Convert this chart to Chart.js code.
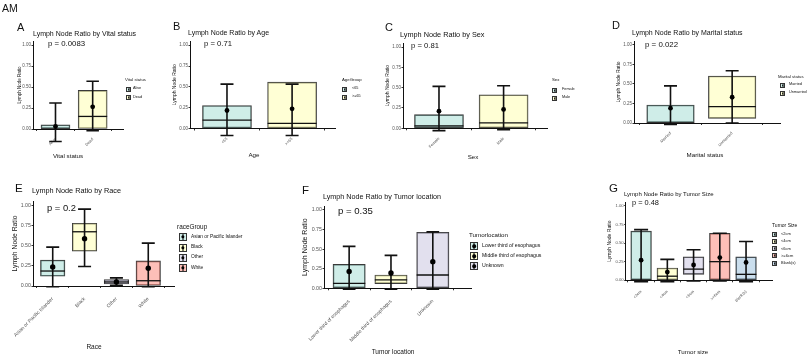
<!DOCTYPE html>
<html><head><meta charset="utf-8">
<script src="https://cdn.jsdelivr.net/npm/chart.js@4.4.1/dist/chart.umd.min.js"></script>
<style>
html,body{margin:0;padding:0;background:#fff;width:811px;height:360px;overflow:hidden;font-family:'Liberation Sans',Arial,sans-serif;-webkit-font-smoothing:antialiased;}
.cv{position:absolute;}
.t{position:absolute;white-space:nowrap;line-height:1;color:#111;will-change:transform;}
.xt{position:absolute;white-space:nowrap;transform:translateX(-50%);line-height:1;color:#111;will-change:transform;}
.sym{position:absolute;box-sizing:border-box;border:0.8px solid #333;}
.sym::before{content:'';position:absolute;left:50%;top:0;bottom:0;width:1px;background:#000;transform:translateX(-50%);}
.sym::after{content:'';position:absolute;left:50%;top:50%;width:60%;height:60%;border-radius:50%;background:#000;transform:translate(-50%,-50%);}
</style></head><body>
<script>
// ---------- DATA ----------
const yTicks = [0, 0.25, 0.5, 0.75, 1.0];

const vitalCats = ['Alive', 'Dead'];
const vitalQ1   = [0, 0];
const vitalMed  = [0, 0.15];
const vitalQ3   = [0.05, 0.46];
const vitalMean = [0.03, 0.265];
const vitalLo   = [-0.15, -0.02];
const vitalHi   = [0.31, 0.57];

const ageCats = ['<65', '>=65'];
const ageQ1   = [0, 0];
const ageMed  = [0.10, 0.062];
const ageQ3   = [0.275, 0.556];
const ageMean = [0.216, 0.236];
const ageLo   = [-0.084, -0.084];
const ageHi   = [0.532, 0.532];

const sexCats = ['Female', 'Male'];
const sexQ1   = [0, 0];
const sexMed  = [0.031, 0.067];
const sexQ3   = [0.168, 0.412];
const sexMean = [0.211, 0.232];
const sexLo   = [-0.029, -0.017];
const sexHi   = [0.516, 0.523];

const maritalCats = ['Married', 'Unmarried'];
const maritalQ1   = [0, 0.06];
const maritalMed  = [0, 0.21];
const maritalQ3   = [0.23, 0.60];
const maritalMean = [0.19, 0.33];
const maritalLo   = [-0.02, 0];
const maritalHi   = [0.475, 0.67];

const raceCats = ['Asian or Pacific Islander', 'Black', 'Other', 'White'];
const raceQ1   = [0.12, 0.43, 0.025, 0];
const raceMed  = [0.185, 0.67, 0.05, 0.065];
const raceQ3   = [0.32, 0.775, 0.08, 0.31];
const raceMean = [0.235, 0.585, 0.05, 0.22];
const raceLo   = [-0.01, 0.24, 0.01, -0.01];
const raceHi   = [0.48, 0.95, 0.10, 0.53];

const locCats = ['Lower third of esophagus', 'Middle third of esophagus', 'Unknown'];
const locQ1   = [0, 0.06, 0];
const locMed  = [0.062, 0.107, 0.17];
const locQ3   = [0.305, 0.17, 0.715];
const locMean = [0.215, 0.195, 0.34];
const locLo   = [-0.01, -0.01, -0.01];
const locHi   = [0.535, 0.42, 0.72];

const sizeCats = ['<2cm', '<4cm', '<6cm', '>=6cm', 'Blank(s)'];
const sizeQ1   = [0, 0, 0.08, 0, 0];
const sizeMed  = [0, 0.055, 0.15, 0.25, 0.08];
const sizeQ3   = [0.66, 0.165, 0.315, 0.63, 0.315];
const sizeMean = [0.27, 0.11, 0.205, 0.305, 0.24];
const sizeLo   = [-0.02, -0.02, -0.01, -0.01, -0.02];
const sizeHi   = [0.68, 0.28, 0.41, 0.63, 0.52];

// ---------- STYLE ----------
const TEAL = 'rgba(141,211,199,0.42)';
const YEL  = 'rgba(255,255,179,0.55)';
const LAV  = 'rgba(190,186,218,0.45)';
const SAL  = 'rgba(251,128,114,0.5)';
const BLU  = 'rgba(128,177,211,0.42)';
const FONT = "'Liberation Sans', Arial, sans-serif";

const panels = [
  {cats: vitalCats, q1: vitalQ1, med: vitalMed, q3: vitalQ3, mean: vitalMean, lo: vitalLo, hi: vitalHi,
   colors: [TEAL, YEL], L: 33, R: 125, Y0: 129, k: 85.7, yw: 15.7, xh: 30, padTop: 2, xmin: 0.395, xmax: 2.816,
   bar: 29, cap: 12.5, tickF: 4.5, yTitleF: 4.5, xLabF: 4, ptR: 2.4, xPad: 6},
  {cats: ageCats, q1: ageQ1, med: ageMed, q3: ageQ3, mean: ageMean, lo: ageLo, hi: ageHi,
   colors: [TEAL, YEL], L: 190, R: 337, Y0: 128.5, k: 85.5, yw: 18.5, xh: 30, padTop: 2, xmin: 0.432, xmax: 2.659,
   bar: 49, cap: 13, tickF: 4.5, yTitleF: 5, xLabF: 4, ptR: 2.4, xPad: 6},
  {cats: sexCats, q1: sexQ1, med: sexMed, q3: sexQ3, mean: sexMean, lo: sexLo, hi: sexHi,
   colors: [TEAL, YEL], L: 403, R: 549, Y0: 128.3, k: 83.3, yw: 18.5, xh: 30, padTop: 2, xmin: 0.443, xmax: 2.672,
   bar: 49, cap: 13, tickF: 4.5, yTitleF: 5, xLabF: 4, ptR: 2.4, xPad: 6},
  {cats: maritalCats, q1: maritalQ1, med: maritalMed, q3: maritalQ3, mean: maritalMean, lo: maritalLo, hi: maritalHi,
   colors: [TEAL, YEL], L: 634, R: 782, Y0: 123, k: 80, yw: 18.3, xh: 30, padTop: 2, xmin: 0.408, xmax: 2.776,
   bar: 47.5, cap: 13, tickF: 4.5, yTitleF: 5, xLabF: 4, ptR: 2.4, xPad: 6},
  {cats: raceCats, q1: raceQ1, med: raceMed, q3: raceQ3, mean: raceMean, lo: raceLo, hi: raceHi,
   colors: [TEAL, YEL, LAV, SAL], L: 33, R: 176, Y0: 286, k: 82.7, yw: 21.6, xh: 62, padTop: 2, xmin: 0.381, xmax: 4.808,
   bar: 24.5, cap: 13, tickF: 5.3, yTitleF: 6.8, xLabF: 5, ptR: 2.7, xPad: 8},
  {cats: locCats, q1: locQ1, med: locMed, q3: locQ3, mean: locMean, lo: locLo, hi: locHi,
   colors: [TEAL, YEL, LAV], L: 324, R: 473, Y0: 288.3, k: 80.7, yw: 22.7, xh: 62, padTop: 2, xmin: 0.399, xmax: 3.913,
   bar: 32.3, cap: 12.7, tickF: 5.3, yTitleF: 7, xLabF: 5, ptR: 2.7, xPad: 8},
  {cats: sizeCats, q1: sizeQ1, med: sizeMed, q3: sizeQ3, mean: sizeMean, lo: sizeLo, hi: sizeHi,
   colors: [TEAL, YEL, LAV, SAL, BLU], L: 625.7, R: 774, Y0: 280.3, k: 76.3, yw: 18.4, xh: 30, padTop: 2, xmin: 0.413, xmax: 5.989,
   bar: 20.7, cap: 14, tickF: 4.2, yTitleF: 5, xLabF: 4, ptR: 2.4, xPad: 7}
];

const YMAX = 1.05;

function extras(p) {
  return {
    id: 'boxExtras',
    beforeDatasetDraw(chart, args) {
      if (args.index !== 1) return;
      const x = chart.scales.x, y = chart.scales.y, ctx = chart.ctx;
      ctx.save();
      ctx.strokeStyle = '#111';
      p.cats.forEach((c, i) => {
        const cx = x.getPixelForValue(i + 1);
        const ym = y.getPixelForValue(p.med[i]);
        ctx.lineWidth = 1.3;
        ctx.beginPath(); ctx.moveTo(cx - p.bar / 2, ym); ctx.lineTo(cx + p.bar / 2, ym); ctx.stroke();
        const yl = y.getPixelForValue(p.lo[i]), yh = y.getPixelForValue(p.hi[i]);
        ctx.lineWidth = 1.6;
        ctx.beginPath();
        ctx.moveTo(cx, yl); ctx.lineTo(cx, yh);
        ctx.moveTo(cx - p.cap / 2, yl); ctx.lineTo(cx + p.cap / 2, yl);
        ctx.moveTo(cx - p.cap / 2, yh); ctx.lineTo(cx + p.cap / 2, yh);
        ctx.stroke();
      });
      ctx.restore();
    }
  };
}

panels.forEach(p => {
  const top = p.Y0 - YMAX * p.k;
  const cl = Math.round(p.L - p.yw);
  const ct = Math.round(top - p.padTop);
  const W = Math.round(p.R + 2 - cl);
  const H = Math.round(p.Y0 + p.xh - ct);
  const yw = p.L - cl, padTop = top - ct, padRight = cl + W - p.R, xh = ct + H - p.Y0;
  const div = document.createElement('div');
  div.className = 'cv';
  div.style.cssText = `left:${cl}px;top:${ct}px;width:${W}px;height:${H}px;`;
  const cv = document.createElement('canvas');
  div.appendChild(cv);
  document.body.appendChild(div);
  new Chart(cv, {
    type: 'bar',
    data: {
      datasets: [
        {type: 'bar', order: 2,
         data: p.cats.map((c, i) => ({x: i + 1, y: [p.q1[i], p.q3[i]]})),
         backgroundColor: p.colors, borderColor: '#3a3a3a', borderWidth: 0.9, borderSkipped: false,
         barThickness: p.bar},
        {type: 'line', order: 1, showLine: false, clip: false,
         data: p.cats.map((c, i) => ({x: i + 1, y: p.mean[i]})),
         pointRadius: p.ptR, pointBackgroundColor: '#000', pointBorderColor: '#000', pointBorderWidth: 0}
      ]
    },
    options: {
      responsive: true, maintainAspectRatio: false, animation: false, events: [],
      layout: {padding: {top: padTop, right: padRight, left: 0, bottom: 0}},
      plugins: {legend: {display: false}, tooltip: {enabled: false}, title: {display: false}},
      scales: {
        x: {type: 'linear', min: p.xmin, max: p.xmax, offset: false,
            afterBuildTicks: s => { s.ticks = p.cats.map((c, i) => ({value: i + 1})); },
            afterFit: s => { s.height = xh; s.paddingLeft = 0; s.paddingRight = 0; },
            border: {display: true, color: '#111', width: 1},
            grid: {display: true, drawOnChartArea: false, drawTicks: true, tickLength: 2, color: '#333'},
            ticks: {autoSkip: false, minRotation: 45, maxRotation: 45, padding: p.xPad, color: '#555',
                    font: {family: FONT, size: p.xLabF}, callback: v => p.cats[Math.round(v) - 1]},
            title: {display: false}},
        y: {type: 'linear', min: 0, max: YMAX,
            afterBuildTicks: s => { s.ticks = yTicks.map(v => ({value: v})); },
            afterFit: s => { s.width = yw; s.paddingTop = 0; s.paddingBottom = 0; },
            border: {display: true, color: '#111', width: 1},
            grid: {display: true, drawOnChartArea: false, drawTicks: true, tickLength: 1.5, color: '#333'},
            ticks: {padding: 0.5, color: '#555', font: {family: FONT, size: p.tickF}, callback: v => v.toFixed(2)},
            title: {display: true, text: 'Lymph Node Ratio', color: '#111', padding: 0,
                    font: {family: FONT, size: p.yTitleF}}}
      }
    },
    plugins: [extras(p)]
  });
});

// ---------- TEXT ----------
function txt(s, x, y, size, cls) {
  const d = document.createElement('div');
  d.className = cls || 't';
  d.style.left = Math.round(x) + 'px';
  d.style.top = Math.round(y - size / 2) + 'px';
  d.style.fontSize = size + 'px';
  d.textContent = s;
  document.body.appendChild(d);
}
// panel letters
txt('AM', 2, 8.7, 10.5);
txt('A', 16.7, 27.8, 11);
txt('B', 173.3, 26.3, 11);
txt('C', 385, 27.5, 11);
txt('D', 612.3, 25.8, 11);
txt('E', 15, 189.2, 11.5);
txt('F', 301.7, 190.5, 11.5);
txt('G', 609.3, 189, 11.5);
// titles
txt('Lymph Node Ratio by Vital status', 33, 33, 7);
txt('Lymph Node Ratio by Age', 188, 32.7, 7);
txt('Lymph Node Ratio by Sex', 400, 34.3, 7.3);
txt('Lymph Node Ratio by Marital status', 632, 32.3, 7);
txt('Lymph Node Ratio by Race', 32, 191, 7.3);
txt('Lymph Node Ratio by Tumor location', 323, 196.7, 7.2);
txt('Lymph Node Ratio by Tumor Size', 624, 194.3, 6);
// p values
txt('p = 0.0083', 48, 44.3, 7.8);
txt('p = 0.71', 204, 44.3, 7.7);
txt('p = 0.81', 411, 46.3, 7.7);
txt('p = 0.022', 645, 45, 7.9);
txt('p = 0.2', 47, 207.3, 9.4);
txt('p = 0.35', 338, 211, 9.6);
txt('p = 0.48', 632, 203, 7.4);
// x axis titles (centered)
txt('Vital status', 68, 156, 6.2, 'xt');
txt('Age', 254, 155, 6.2, 'xt');
txt('Sex', 473, 157, 6.2, 'xt');
txt('Marital status', 705, 155, 6.2, 'xt');
txt('Race', 94, 347, 6.5, 'xt');
txt('Tumor location', 393, 352, 6.5, 'xt');
txt('Tumor size', 693, 352, 6.2, 'xt');

// legends
function legend(title, items, colors, x, ty, ys, tSize, iSize, symX, symS, textX) {
  txt(title, x, ty, tSize);
  items.forEach((s, i) => {
    const d = document.createElement('div');
    d.className = 'sym';
    d.style.left = Math.round(symX) + 'px'; d.style.top = Math.round(ys[i] - symS / 2) + 'px';
    d.style.width = symS + 'px'; d.style.height = symS + 'px';
    d.style.background = colors[i];
    document.body.appendChild(d);
    txt(s, textX, ys[i], iSize);
  });
}
legend('Vital status', vitalCats, panels[0].colors, 124.5, 80.3, [89, 97.5], 4.3, 3.8, 126, 5, 133);
legend('AgeGroup', ageCats, panels[1].colors, 342, 80, [89, 97], 4.3, 3.8, 341.7, 5, 351.5);
legend('Sex', sexCats, panels[2].colors, 552, 80.3, [90, 98], 4.3, 3.8, 552, 5, 562.3);
legend('Marital status', maritalCats, panels[3].colors, 778.3, 76.7, [85.3, 93.3], 4.3, 3.8, 780, 5, 789);
legend('raceGroup', raceCats, panels[4].colors, 177.3, 226.7, [237, 247.3, 257.7, 268], 6.4, 4.8, 179, 7.5, 190.7);
legend('Tumorlocation', locCats, panels[5].colors, 469.3, 235, [245.7, 255.7, 265.7], 6.2, 5.2, 470, 8, 482.3);
legend('Tumor Size', sizeCats, panels[6].colors, 771.7, 225.5, [234, 241.3, 248.5, 255.7, 263], 5, 4, 772.3, 5, 780.7);
</script>
</body></html>
